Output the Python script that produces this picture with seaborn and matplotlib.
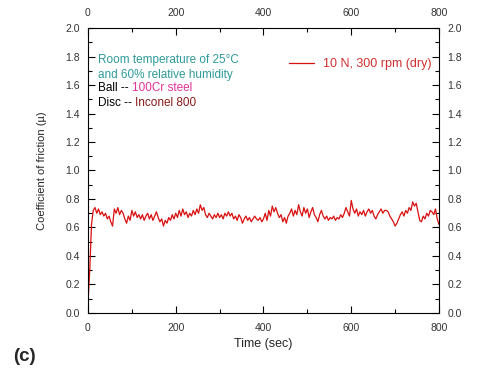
import numpy as np
import pandas as pd
import matplotlib
matplotlib.use('Agg')
import matplotlib.pyplot as plt
import seaborn as sns
from matplotlib.ticker import MultipleLocator

# friction trace, one value every 4 s
time_step = 4
cof = [
    0.07, 0.30, 0.62, 0.72, 0.74, 0.70, 0.73, 0.69, 0.71, 0.68,
    0.70, 0.66, 0.68, 0.64, 0.61, 0.73, 0.70, 0.74, 0.69, 0.72,
    0.70, 0.66, 0.63, 0.68, 0.65, 0.72, 0.68, 0.71, 0.67, 0.69,
    0.66, 0.69, 0.65, 0.68, 0.70, 0.66, 0.69, 0.65, 0.68, 0.71,
    0.67, 0.64, 0.66, 0.61, 0.65, 0.63, 0.67, 0.65, 0.69, 0.66,
    0.70, 0.67, 0.72, 0.68, 0.73, 0.69, 0.71, 0.67, 0.70, 0.68,
    0.72, 0.69, 0.73, 0.70, 0.76, 0.72, 0.74, 0.69, 0.67, 0.70,
    0.68, 0.66, 0.69, 0.67, 0.70, 0.67, 0.69, 0.66, 0.70, 0.68,
    0.71, 0.68, 0.70, 0.66, 0.68, 0.65, 0.69, 0.67, 0.63, 0.66,
    0.68, 0.65, 0.67, 0.64, 0.66, 0.68, 0.66, 0.65, 0.67, 0.64,
    0.66, 0.70, 0.65, 0.72, 0.68, 0.75, 0.71, 0.74, 0.70, 0.67,
    0.69, 0.64, 0.67, 0.63, 0.68, 0.70, 0.73, 0.68, 0.72, 0.69,
    0.76, 0.71, 0.68, 0.74, 0.70, 0.73, 0.67, 0.71, 0.74, 0.69,
    0.67, 0.64, 0.69, 0.72, 0.68, 0.66, 0.68, 0.65, 0.67, 0.66,
    0.68, 0.65, 0.67, 0.66, 0.69, 0.67, 0.70, 0.74, 0.71, 0.68,
    0.79, 0.73, 0.70, 0.73, 0.68, 0.71, 0.69, 0.72, 0.68, 0.71,
    0.73, 0.70, 0.72, 0.68, 0.66, 0.69, 0.71, 0.73, 0.70, 0.72,
    0.72, 0.71, 0.68, 0.66, 0.64, 0.61, 0.63, 0.66, 0.69, 0.71,
    0.68, 0.72, 0.70, 0.74, 0.72, 0.78, 0.75, 0.77, 0.71, 0.65,
    0.64, 0.68, 0.66, 0.70, 0.68, 0.72, 0.71, 0.69, 0.73, 0.66,
    0.62,
]
series_label = '10 N, 300 rpm (dry)'

df = pd.DataFrame({'time': np.arange(len(cof)) * time_step, 'cof': cof})

sns.set_style('ticks')
plt.rcParams['font.family'] = ['Liberation Sans', 'DejaVu Sans']

fig = plt.figure(figsize=(4.8, 3.76), dpi=100)
ax = fig.add_axes([0.1833, 0.1676, 0.7313, 0.7579])

sns.lineplot(data=df, x='time', y='cof', ax=ax, color='#d81010', linewidth=0.9, label=series_label)

ax.set_xlim(0, 800)
ax.set_ylim(0, 2.0)
ax.xaxis.set_major_locator(MultipleLocator(200))
ax.xaxis.set_minor_locator(MultipleLocator(100))
ax.yaxis.set_major_locator(MultipleLocator(0.2))
ax.yaxis.set_minor_locator(MultipleLocator(0.1))
ax.yaxis.set_major_formatter(matplotlib.ticker.FormatStrFormatter('%.1f'))
ax.tick_params(which='both', direction='in', top=True, right=True,
               labeltop=True, labelright=True, labelsize=7.5, labelcolor='#333333',
               width=0.8, color='black')
ax.tick_params(which='major', length=5)
ax.tick_params(which='minor', length=3)
ax.tick_params(axis='x', which='major', pad=7)
ax.tick_params(axis='y', which='major', pad=6)
for s in ax.spines.values():
    s.set_linewidth(0.8)
    s.set_color('black')

ax.set_xlabel('Time (sec)', fontsize=9, labelpad=4)
ax.set_ylabel('Coefficient of friction (µ)', fontsize=8, labelpad=13)

leg = ax.legend(loc='upper right', bbox_to_anchor=(1.0, 0.92), frameon=False,
                handlelength=2.0, handletextpad=0.7, fontsize=9, labelcolor='#d03030',
                borderaxespad=0.2)

teal = '#2e9a9a'
ax.text(0.028, 0.888, 'Room temperature of 25°C', color=teal, fontsize=8.5,
        transform=ax.transAxes, va='center')
ax.text(0.028, 0.835, 'and 60% relative humidity', color=teal, fontsize=8.5,
        transform=ax.transAxes, va='center')
t1 = ax.text(0.028, 0.789, 'Ball -- ', color='black', fontsize=8.5,
             transform=ax.transAxes, va='center')
ax.annotate('100Cr steel', xy=(1, 0.5), xycoords=t1, va='center', color='#e0309a', fontsize=8.5)
t2 = ax.text(0.028, 0.737, 'Disc -- ', color='black', fontsize=8.5,
             transform=ax.transAxes, va='center')
ax.annotate('Inconel 800', xy=(1, 0.5), xycoords=t2, va='center', color='#8b1a1a', fontsize=8.5)

fig.text(0.028, 0.052, '(c)', fontsize=13.5, fontweight='bold', va='center')

fig.savefig('out.png', dpi=100)
